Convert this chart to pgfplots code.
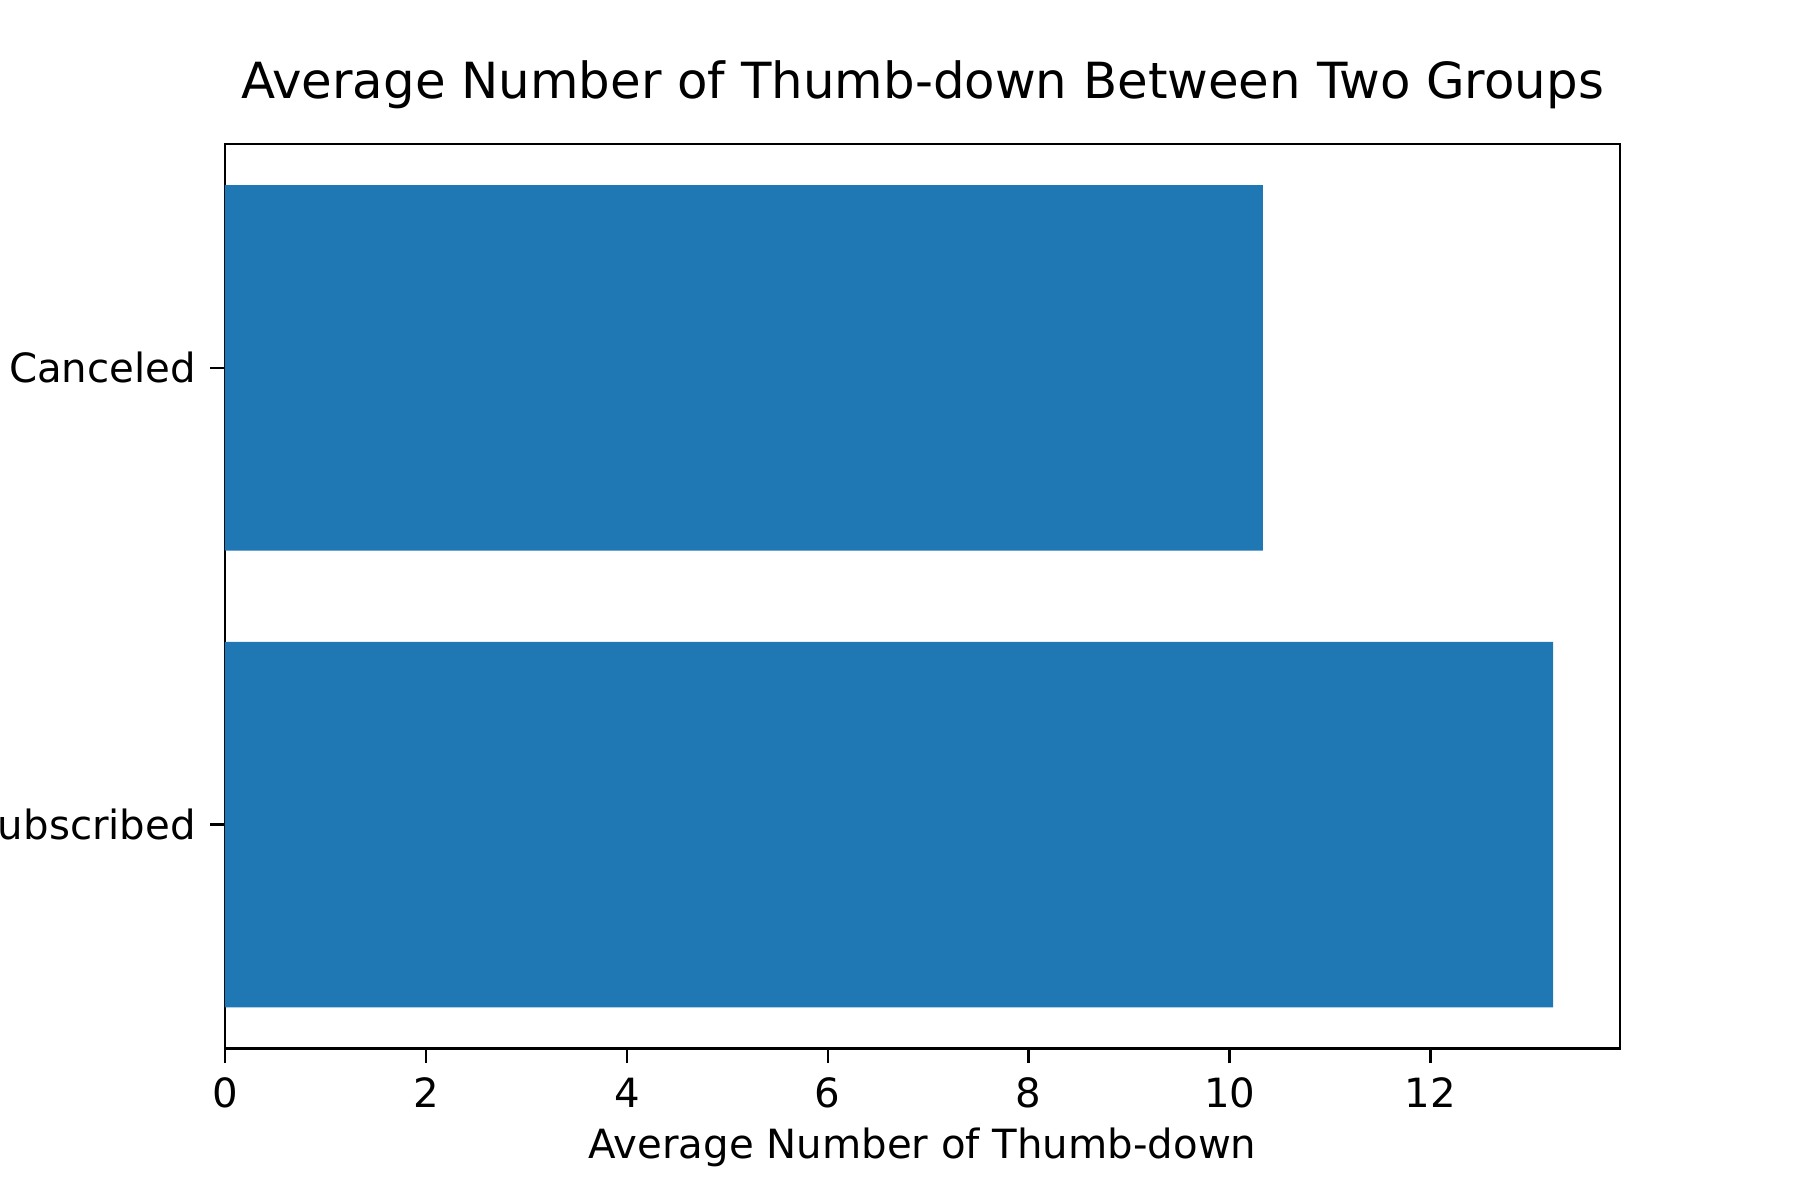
\documentclass[border=0pt]{standalone}
\usepackage{pgfplots}
\pgfplotsset{compat=1.18}
\usepackage{fontspec}
\setmainfont{DejaVu Sans}
\definecolor{mplblue}{HTML}{1F77B4}
\begin{document}
\begin{tikzpicture}
\clip (0,0) rectangle (6in,4in);
\useasboundingbox (0,0) rectangle (6in,4in);
\begin{axis}[
  at={(0.75in,0.505in)}, anchor=south west,
  scale only axis, width=4.65in, height=3.015in,
  xbar, bar width=0.8,
  xmin=0, xmax=13.886, ymin=-0.49, ymax=1.49,
  ytick={0,1}, yticklabels={Subscribed,Canceled},
  xtick={0,2,4,6,8,10,12},
  tick align=outside, xtick pos=bottom, ytick pos=left,
  major tick length=3.5pt,
  tick style={line width=0.6pt, black},
  /pgf/number format/assume math mode=true,
  tick label style={font=\fontsize{9.7}{12}\selectfont},
  xlabel={Average Number of Thumb-down},
  xlabel style={font=\fontsize{9.7}{12}\selectfont, yshift=2pt},
  title={Average Number of Thumb-down Between Two Groups},
  title style={font=\fontsize{12}{14}\selectfont, yshift=-1pt},
  axis line style={line width=0.6pt},
]
\addplot[fill=mplblue, draw=none] coordinates {(13.22,0) (10.33,1)};
\end{axis}
\end{tikzpicture}
\end{document}
